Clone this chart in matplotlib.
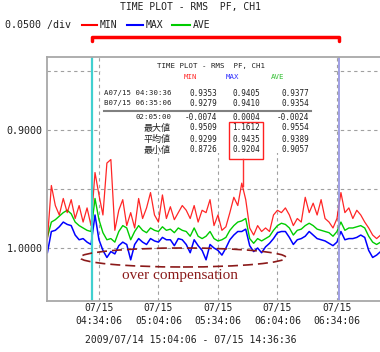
import numpy as np
import matplotlib
matplotlib.use("Agg")
import matplotlib.pyplot as plt
from matplotlib.lines import Line2D
from matplotlib.patches import Rectangle, Ellipse

# Sample times: minutes relative to 07/15 04:34:06, one reading every 2 minutes
minutes = np.arange(85) * 2 - 26

# Power factor readings
pf_min = [0.993, 0.947, 0.964, 0.972, 0.958, 0.970, 0.959, 0.975, 0.964, 0.978,
          0.966, 0.981, 0.936, 0.955, 0.972, 0.928, 0.925, 0.985, 0.968, 0.959,
          0.981, 0.970, 0.983, 0.958, 0.975, 0.966, 0.953, 0.972, 0.978, 0.955,
          0.975, 0.965, 0.976, 0.970, 0.964, 0.968, 0.975, 0.964, 0.978, 0.968,
          0.970, 0.959, 0.981, 0.972, 0.985, 0.982, 0.970, 0.957, 0.964, 0.945,
          0.959, 0.983, 0.989, 0.981, 0.986, 0.983, 0.986, 0.972, 0.968, 0.970,
          0.966, 0.972, 0.981, 0.975, 0.978, 0.957, 0.970, 0.962, 0.972, 0.959,
          0.975, 0.978, 0.983, 0.975, 0.953, 0.970, 0.966, 0.975, 0.968, 0.972,
          0.978, 0.983, 0.989, 0.992, 0.989]
pf_max = [1.004, 0.986, 0.985, 0.982, 0.978, 0.980, 0.981, 0.989, 0.993, 0.992,
          0.995, 0.997, 0.972, 0.993, 1.002, 1.008, 1.003, 1.005, 0.998, 0.995,
          0.997, 1.010, 0.997, 0.992, 0.995, 0.997, 0.992, 0.994, 0.995, 0.991,
          0.993, 0.993, 0.998, 0.992, 0.993, 0.997, 1.004, 0.993, 0.998, 1.002,
          1.010, 0.997, 1.000, 1.002, 1.006, 1.000, 0.993, 0.989, 0.986, 0.986,
          0.984, 0.998, 1.003, 1.000, 1.004, 0.999, 0.996, 0.992, 0.987, 0.986,
          0.986, 0.991, 0.997, 0.993, 0.992, 0.990, 0.986, 0.989, 0.992, 0.993,
          0.994, 0.996, 0.998, 0.995, 0.986, 0.993, 0.992, 0.992, 0.991, 0.989,
          0.991, 1.002, 1.008, 1.006, 1.003]
pf_ave = [0.991, 0.978, 0.976, 0.973, 0.970, 0.968, 0.971, 0.978, 0.981, 0.983,
          0.985, 0.986, 0.958, 0.976, 0.987, 0.993, 0.992, 0.995, 0.986, 0.981,
          0.983, 0.993, 0.986, 0.981, 0.985, 0.987, 0.983, 0.985, 0.986, 0.982,
          0.985, 0.984, 0.987, 0.983, 0.985, 0.986, 0.990, 0.983, 0.990, 0.992,
          0.990, 0.986, 0.992, 0.994, 0.993, 0.991, 0.985, 0.981, 0.978, 0.977,
          0.975, 0.992, 0.996, 0.992, 0.994, 0.992, 0.990, 0.985, 0.981, 0.979,
          0.980, 0.983, 0.989, 0.985, 0.984, 0.981, 0.979, 0.981, 0.984, 0.985,
          0.986, 0.987, 0.990, 0.986, 0.978, 0.985, 0.983, 0.983, 0.982, 0.981,
          0.983, 0.990, 0.995, 0.997, 0.995]

tick_minutes = [0, 30, 60, 90, 120]
tick_labels = ["07/15\n04:34:06", "07/15\n05:04:06", "07/15\n05:34:06",
               "07/15\n06:04:06", "07/15\n06:34:06"]
cursor_a = -3.5   # 04:30:36
cursor_b = 121.0  # 06:35:06

# Cursor table
row_labels = ["02:05:00", "最大値", "平均値", "最小値"]
cursor_rows = ["A07/15 04:30:36", "B07/15 06:35:06"]
col_min = ["0.9353", "0.9279", "-0.0074", "0.9509", "0.9299", "0.8726"]
col_max = ["0.9405", "0.9410", "0.0004", "1.1612", "0.9435", "0.9204"]
col_ave = ["0.9377", "0.9354", "-0.0024", "0.9554", "0.9389", "0.9057"]

MONO = ["DejaVu Sans Mono", "Noto Sans CJK JP"]
TXT = "#202020"
W, H = 380, 352


def fx(x):
    return x / W


def fy(y):
    return 1 - y / H


fig = plt.figure(figsize=(3.8, 3.52), dpi=100)
ax = fig.add_axes([fx(47), fy(301), 1 - fx(47), fy(57) - fy(301)])

ax.plot(minutes, pf_max, color="#0000ff", lw=1.1)
ax.plot(minutes, pf_ave, color="#00cc00", lw=1.0)
ax.plot(minutes, pf_min, color="#ff0000", lw=0.9, alpha=0.85)

ax.axvline(cursor_a, color="#40d0d0", lw=1.6)
ax.axvline(cursor_b, color="#9090e0", lw=1.2)

ax.set_xlim(-26.2, 141.7)
ax.set_ylim(1.0449, 0.8381)
ax.set_xticks(tick_minutes)
ax.set_xticklabels(tick_labels, family=MONO, fontsize=7, color=TXT, linespacing=1.35)
ax.set_yticks([0.85, 0.90, 0.95, 1.00])
ax.set_yticklabels(["", "0.9000", "", "1.0000"], family=MONO, fontsize=7.2, color=TXT)
ax.tick_params(length=0)
ax.tick_params(axis="x", pad=1.5)
ax.tick_params(axis="y", pad=3)
ax.grid(True, color="#a0a0a0", lw=0.8, linestyle=(0, (3, 3)))
for side in ["left", "bottom", "top"]:
    ax.spines[side].set_color("#a8a8a8")
    ax.spines[side].set_linewidth(1.3)
ax.spines["right"].set_visible(False)

# Titles and legend
fig.text(fx(191), fy(7), "TIME PLOT - RMS  PF, CH1", ha="center", va="center",
         family=MONO, fontsize=7, color=TXT)
fig.text(fx(5), fy(25), "0.0500 /div", ha="left", va="center",
         family=MONO, fontsize=7.2, color=TXT)
for x0, x1, c, name in [(82, 97, "#ff0000", "MIN"), (127, 143, "#0000ff", "MAX"),
                        (172, 190, "#00cc00", "AVE")]:
    fig.add_artist(Line2D([fx(x0), fx(x1)], [fy(25), fy(25)], color=c, lw=1.5,
                          transform=fig.transFigure))
    fig.text(fx(x1 + 3), fy(25), name, ha="left", va="center",
             family=MONO, fontsize=7, color=TXT)

# Red bracket over cursor span
fig.add_artist(Line2D([fx(92), fx(92), fx(339), fx(339)],
                      [fy(41), fy(37), fy(37), fy(41)], color="#ff0000", lw=2.5,
                      solid_joinstyle="round", solid_capstyle="round",
                      transform=fig.transFigure))

# Cursor table
fig.add_artist(Rectangle((fx(101), fy(153)), fx(334) - fx(101), fy(58) - fy(153),
                         facecolor="white", edgecolor="none",
                         transform=fig.transFigure, zorder=1))
fig.text(fx(211), fy(66), "TIME PLOT - RMS  PF, CH1", ha="center", va="center",
         family=MONO, fontsize=5.3, color=TXT, zorder=2)
for xc, c, name in [(190, "#ff3030", "MIN"), (233, "#3030ff", "MAX"),
                    (278, "#30c030", "AVE")]:
    fig.text(fx(xc), fy(77), name, ha="center", va="center",
             family=MONO, fontsize=5.3, color=c, zorder=2)

row_y = [93, 103, 117, 128, 139, 150]
for i, y in enumerate(row_y):
    if i < 2:
        fig.text(fx(104), fy(y), cursor_rows[i], ha="left", va="center",
                 family=MONO, fontsize=5.3, color=TXT, zorder=2)
    else:
        lab = row_labels[i - 2]
        fs = 5.3 if i == 2 else 6.5
        fig.text(fx(171), fy(y), lab, ha="right", va="center",
                 family=MONO, fontsize=fs, color=TXT, zorder=2)
    for xr, col in [(217, col_min), (260, col_max), (309, col_ave)]:
        fig.text(fx(xr), fy(y), col[i], ha="right", va="center",
                 family=MONO, fontsize=5.5, color=TXT, zorder=2)

fig.add_artist(Line2D([fx(104), fx(311)], [fy(111), fy(111)], color="#808080",
                      lw=1.5, transform=fig.transFigure, zorder=2))

# Highlight of the max column and its peak
fig.add_artist(Rectangle((fx(229), fy(159)), fx(263) - fx(229), fy(122) - fy(159),
                         facecolor="none", edgecolor="#ff2020", lw=1.0,
                         transform=fig.transFigure, zorder=3))
fig.add_artist(Line2D([fx(243), fx(243)], [fy(159), fy(186)], color="#ff3030",
                      lw=1.0, transform=fig.transFigure, zorder=3))

# Over compensation annotation
fig.add_artist(Ellipse((fx(183), fy(257.5)), 206 / W, 19 / H, facecolor="none",
                       edgecolor="#8b1a1a", lw=1.2, linestyle=(0, (6, 3)),
                       transform=fig.transFigure, zorder=3))
fig.text(fx(180), fy(275), "over compensation", ha="center", va="center",
         family="Liberation Serif", fontsize=11, color="#8b1a1a", zorder=3)

fig.text(fx(191), fy(340), "2009/07/14 15:04:06 - 07/15 14:36:36", ha="center",
         va="center", family=MONO, fontsize=7, color=TXT)

fig.savefig("out.png", dpi=100)
